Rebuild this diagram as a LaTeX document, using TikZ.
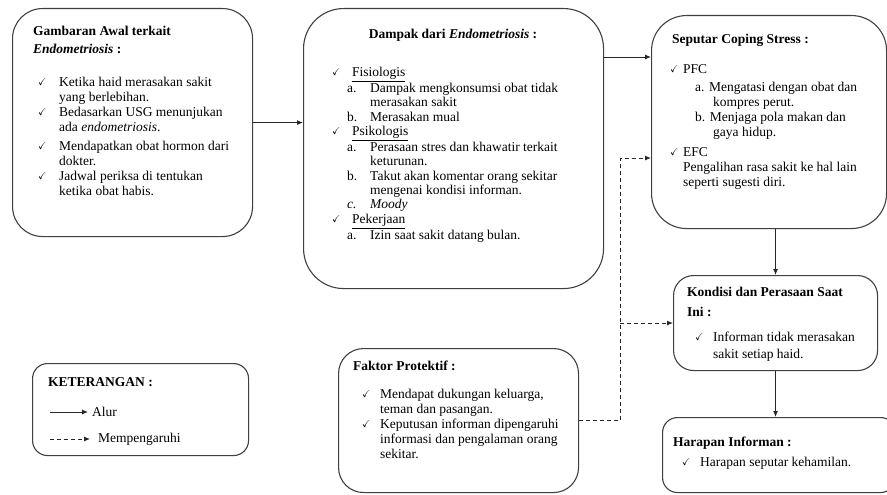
\documentclass[tikz,border=0pt]{standalone}
\usepackage{amssymb}
\usepackage{fontspec}
\setmainfont{Liberation Serif}
\usetikzlibrary{arrows.meta}

\newcommand{\cek}[1]{\makebox[#1][l]{\raisebox{1pt}{\fontsize{10}{10}\selectfont$\checkmark$}}}
\newcommand{\butir}[3]{\hspace*{#1}\makebox[#2][l]{#3}}

\begin{document}
\begin{tikzpicture}[x=1pt,y=-1pt,
  kotak/.style={draw=black!75, line width=1.1pt, inner sep=0pt, anchor=north west},
  isi/.style={anchor=north west, inner sep=0pt, align=left, font=\fontsize{13.5}{15}\selectfont},
  judul/.style={isi, font=\bfseries\fontsize{13.5}{15}\selectfont},
  alur/.style={-{Latex[length=6pt,width=5pt]}, line width=0.9pt, black!85},
  pengaruh/.style={alur, dash pattern=on 4pt off 3pt}]

\useasboundingbox (0,0) rectangle (887,495);

% kotak
\node[kotak, rounded corners=30pt, minimum width=240pt, minimum height=228pt] (awal) at (12,8) {};
\node[kotak, rounded corners=40pt, minimum width=300pt, minimum height=280pt] (dampak) at (303,8) {};
\node[kotak, rounded corners=35pt, minimum width=235pt, minimum height=213pt] (coping) at (651,15) {};
\node[kotak, rounded corners=20pt, minimum width=204pt, minimum height=95pt] (kondisi) at (673,275) {};
\node[kotak, rounded corners=15pt, minimum width=233pt, minimum height=75pt] (harapan) at (662,417) {};
\node[kotak, rounded corners=25pt, minimum width=240pt, minimum height=144pt] (faktor) at (338,348) {};
\node[kotak, rounded corners=15pt, minimum width=216pt, minimum height=92pt] (ket) at (32,363) {};

% gambaran awal
\node[judul] (awalJudul) at (33,25) {\strut Gambaran Awal terkait\\[3pt]
  \textit{Endometriosis} :};
\node[isi] (awalIsi) at (38,76) {\strut\cek{21pt}Ketika haid merasakan sakit\\
  \hspace*{21pt}yang berlebihan.\\
  \cek{21pt}Bedasarkan USG menunjukan\\
  \hspace*{21pt}ada \textit{endometriosis}.\\[4pt]
  \cek{21pt}Mendapatkan obat hormon dari\\
  \hspace*{21pt}dokter.\\
  \cek{21pt}Jadwal periksa di tentukan\\
  \hspace*{21pt}ketika obat habis.};

% dampak
\node[judul, anchor=north] (dampakJudul) at (453,28) {\strut Dampak dari \textit{Endometriosis} :};
\node[isi, font=\fontsize{13.5}{14.3}\selectfont] (dampakIsi) at (332,66.5) {\strut\cek{20pt}\underline{Fisiologis}\\
  \butir{15pt}{23pt}{a.}Dampak mengkonsumsi obat tidak\\
  \hspace*{38pt}merasakan sakit\\
  \butir{15pt}{23pt}{b.}Merasakan mual\\
  \cek{20pt}\underline{Psikologis}\\
  \butir{15pt}{23pt}{a.}Perasaan stres dan khawatir terkait\\
  \hspace*{38pt}keturunan.\\
  \butir{15pt}{23pt}{b.}Takut akan komentar orang sekitar\\
  \hspace*{38pt}mengenai kondisi informan.\\
  \butir{15pt}{23pt}{\textit{c.}}\textit{Moody}\\
  \cek{20pt}\underline{Pekerjaan}\\
  \butir{15pt}{23pt}{a.}Izin saat sakit datang bulan.};

% coping stress
\node[judul] (copingJudul) at (672,33) {\strut Seputar Coping Stress :};
\node[isi] (copingIsi) at (670,63) {\strut\cek{13pt}PFC\\[3pt]
  \hspace*{25pt}a. Mengatasi dengan obat dan\\
  \hspace*{43pt}kompres perut.\\
  \hspace*{25pt}b. Menjaga pola makan dan\\
  \hspace*{43pt}gaya hidup.\\[5pt]
  \cek{13pt}EFC\\
  \hspace*{13pt}Pengalihan rasa sakit ke hal lain\\
  \hspace*{13pt}seperti sugesti diri.};

% kondisi
\node[judul] (kondisiJudul) at (687,286) {\strut Kondisi dan Perasaan Saat\\[5pt]
  Ini :};
\node[isi] (kondisiIsi) at (695,331) {\strut\cek{18pt}Informan tidak merasakan\\[2pt]
  \hspace*{18pt}sakit setiap haid.};

% harapan
\node[judul] (harapanJudul) at (673,436) {\strut Harapan Informan :};
\node[isi] (harapanIsi) at (682,456) {\strut\cek{18pt}Harapan seputar kehamilan.};

% faktor protektif
\node[judul] (faktorJudul) at (353,360) {\strut Faktor Protektif :};
\node[isi] (faktorIsi) at (362,388) {\strut\cek{18pt}Mendapat dukungan keluarga,\\
  \hspace*{18pt}teman dan pasangan.\\
  \cek{18pt}Keputusan informan dipengaruhi\\
  \hspace*{18pt}informasi dan pengalaman orang\\
  \hspace*{18pt}sekitar.};

% keterangan
\node[judul] (ketJudul) at (48,376) {\strut KETERANGAN :};
\coordinate (lgA) at (50,412);
\coordinate (lgB) at (50,439);
\node[isi, anchor=west, inner sep=2pt] (lgAlur) at (90,412) {Alur};
\node[isi, anchor=west, inner sep=2pt] (lgPengaruh) at (96,439) {Mempengaruhi};
\draw[alur] (lgA) -- ([xshift=-2pt]lgAlur.west);
\draw[pengaruh] (lgB) -- ([xshift=-6pt]lgPengaruh.west);

% panah
\draw[alur] (awal.east) -- (awal.east -| dampak.west);
\coordinate (d1) at ([yshift=-49pt]dampak.north east);
\draw[alur] (d1) -- (d1 -| coping.west);
\draw[alur] (coping.south -| kondisi.north) -- (kondisi.north);
\draw[alur] (kondisi.south) -- (kondisi.south |- harapan.north);

\coordinate (siku) at ([xshift=41pt]faktor.east);
\coordinate (c1) at ([yshift=-36pt]coping.west);
\draw[pengaruh] (faktor.east) -- (siku) |- (c1);
\draw[pengaruh] (siku |- kondisi.west) -- (kondisi.west);

\end{tikzpicture}
\end{document}
